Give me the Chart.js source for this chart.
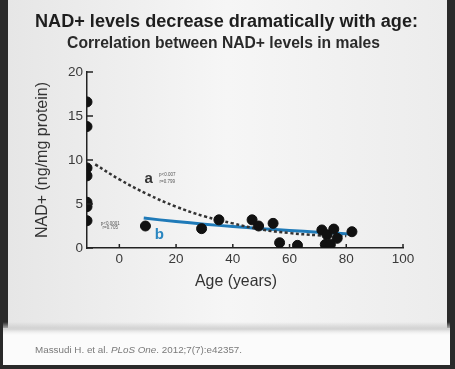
<!DOCTYPE html>
<html>
<head>
<meta charset="utf-8">
<script src="https://cdn.jsdelivr.net/npm/chart.js@4.4.1/dist/chart.umd.min.js"></script>
<style>
  html, body { margin: 0; padding: 0; background: #2a2a2a; }
  #wrap { width: 455px; height: 369px; position: relative; }
</style>
</head>
<body>
<div id="wrap"><canvas id="nadChart" width="455" height="369"></canvas></div>
<script>
// values
var ages = [-11.4, -11.4, -11.4, -11.4, -11.4, -11.4, -11.4, 9.2, 29.0, 35.1, 46.8, 49.1, 54.2, 56.5, 62.8, 71.4, 73.2, 75.6, 76.8, 72.6, 74.4, 82.0];
var nadLevels = [16.6, 13.8, 9.1, 8.2, 5.2, 4.7, 3.1, 2.5, 2.2, 3.2, 3.2, 2.5, 2.8, 0.6, 0.3, 2.05, 1.5, 2.15, 1.1, 0.4, 0.4, 1.85];

var curveAAge = [-8.5, 0, 10, 20, 30, 40, 50, 60, 70, 80];
var curveANad = [9.5, 7.8, 6.1, 4.7, 3.6, 2.8, 2.1, 1.7, 1.45, 1.35];

var curveBAge = [8.6, 20, 30, 40, 50, 60, 70, 81];
var curveBNad = [3.4, 3.0, 2.7, 2.45, 2.2, 2.0, 1.8, 1.6];

var xTicks = [0, 20, 40, 60, 80, 100];
var yTicks = [0, 5, 10, 15, 20];

var title = "NAD+ levels decrease dramatically with age:";
var subtitle = "Correlation between NAD+ levels in males";
var xTitle = "Age (years)";
var yTitle = "NAD+ (ng/mg protein)";

function toPoints(xs, ys) {
    return xs.map(function (x, i) { return { x: x, y: ys[i] }; });
}

var FONT = "'Liberation Sans', Arial, sans-serif";

// pick a font size so the text spans the given width
function fitFont(ctx, text, style, width) {
    ctx.font = style + ' 10px ' + FONT;
    var size = 10 * width / ctx.measureText(text).width;
    ctx.font = style + ' ' + size.toFixed(2) + 'px ' + FONT;
    return size;
}

var decor = {
    id: 'decor',
    beforeDraw: function (chart) {
        var ctx = chart.ctx;
        ctx.save();
        ctx.fillStyle = '#2a2a2a';
        ctx.fillRect(0, 0, 455, 369);
        var g = ctx.createLinearGradient(8, 0, 447, 0);
        g.addColorStop(0, '#e6e6e6');
        g.addColorStop(0.5, '#f6f6f6');
        g.addColorStop(1, '#ececec');
        ctx.fillStyle = g;
        ctx.fillRect(8, 0, 439, 328);
        ctx.fillStyle = '#fbfbfb';
        ctx.fillRect(3, 328, 447, 37);
        var sh = ctx.createLinearGradient(0, 322, 0, 336);
        sh.addColorStop(0, 'rgba(200,200,200,0)');
        sh.addColorStop(0.5, 'rgba(205,205,205,0.9)');
        sh.addColorStop(1, 'rgba(250,250,250,0)');
        ctx.fillStyle = sh;
        ctx.fillRect(3, 322, 447, 14);
        ctx.restore();
    },
    afterDraw: function (chart) {
        var ctx = chart.ctx;
        var xs = chart.scales.x, ys = chart.scales.y;
        ctx.save();
        ctx.textAlign = 'center';
        ctx.textBaseline = 'middle';
        ctx.fillStyle = '#1e1e1e';
        fitFont(ctx, title, 'bold', 383);
        ctx.fillText(title, 226.5, 22);
        ctx.fillStyle = '#2a2a2a';
        fitFont(ctx, subtitle, 'bold', 313);
        ctx.fillText(subtitle, 223.5, 44);

        ctx.fillStyle = '#333';
        fitFont(ctx, xTitle, 'normal', 82);
        ctx.fillText(xTitle, 236, 282);

        // tick marks point inward
        ctx.strokeStyle = '#222';
        ctx.lineWidth = 1.5;
        xTicks.forEach(function (v) {
            var px = xs.getPixelForValue(v);
            ctx.beginPath();
            ctx.moveTo(px, ys.bottom);
            ctx.lineTo(px, ys.bottom - 4);
            ctx.stroke();
        });
        yTicks.forEach(function (v) {
            var py = ys.getPixelForValue(v);
            ctx.beginPath();
            ctx.moveTo(xs.left, py);
            ctx.lineTo(xs.left + 6, py);
            ctx.stroke();
        });

        // curve labels
        ctx.fillStyle = '#333';
        ctx.font = 'bold 15px ' + FONT;
        ctx.fillText('a', xs.getPixelForValue(10.3), ys.getPixelForValue(7.9));
        ctx.fillStyle = '#2a86c0';
        ctx.fillText('b', xs.getPixelForValue(14.1), ys.getPixelForValue(1.5));
        ctx.fillStyle = '#555';
        ctx.font = '4.5px ' + FONT;
        ctx.fillText('p<0.007', xs.getPixelForValue(16.9), ys.getPixelForValue(8.3));
        ctx.fillText('r=0.799', xs.getPixelForValue(16.9), ys.getPixelForValue(7.55));
        ctx.fillText('p<0.0001', xs.getPixelForValue(-3.2), ys.getPixelForValue(2.7));
        ctx.fillText('r=0.705', xs.getPixelForValue(-3.2), ys.getPixelForValue(2.3));

        // citation
        ctx.textAlign = 'left';
        ctx.fillStyle = '#7a7a7a';
        var c1 = 'Massudi H. et al. ', c2 = 'PLoS One', c3 = '. 2012;7(7):e42357.';
        var size = fitFont(ctx, c1 + c2 + c3, 'normal', 207).toFixed(2);
        ctx.font = size + 'px ' + FONT;
        ctx.fillText(c1, 35, 350);
        var w = ctx.measureText(c1).width;
        ctx.font = 'italic ' + size + 'px ' + FONT;
        ctx.fillText(c2, 35 + w, 350);
        w += ctx.measureText(c2).width;
        ctx.font = size + 'px ' + FONT;
        ctx.fillText(c3, 35 + w, 350);
        ctx.restore();
    }
};

document.addEventListener("DOMContentLoaded", function () {
    var ctx = document.getElementById("nadChart").getContext("2d");

    new Chart(ctx, {
        type: 'scatter',
        data: {
            datasets: [{
                label: 'Males',
                data: toPoints(ages, nadLevels),
                backgroundColor: '#111',
                borderColor: '#111',
                pointRadius: 5,
                order: 0
            }, {
                label: 'a',
                data: toPoints(curveAAge, curveANad),
                showLine: true,
                borderColor: '#333',
                borderWidth: 2.5,
                borderDash: [3, 2.5],
                pointRadius: 0,
                tension: 0.4,
                order: 1
            }, {
                label: 'b',
                data: toPoints(curveBAge, curveBNad),
                showLine: true,
                borderColor: '#1f7ab8',
                borderWidth: 3,
                pointRadius: 0,
                tension: 0.4,
                order: 2
            }]
        },
        options: {
            responsive: false,
            animation: false,
            layout: { padding: { top: 72, right: 52, bottom: 0, left: 0 } },
            plugins: {
                legend: { display: false },
                tooltip: { enabled: false }
            },
            scales: {
                x: {
                    type: 'linear',
                    min: -11.4,
                    max: 100,
                    afterBuildTicks: function (scale) {
                        scale.ticks = xTicks.map(function (v) { return { value: v }; });
                    },
                    afterFit: function (scale) { scale.height = 121; },
                    grid: { display: false, drawTicks: false },
                    border: { display: true, color: '#222', width: 1.5 },
                    ticks: { color: '#3a3a3a', padding: 3, font: { size: 13.5, family: FONT } }
                },
                y: {
                    min: 0,
                    max: 20,
                    afterBuildTicks: function (scale) {
                        scale.ticks = yTicks.map(function (v) { return { value: v }; });
                    },
                    afterFit: function (scale) { scale.width = 87; },
                    grid: { display: false, drawTicks: false },
                    border: { display: true, color: '#222', width: 1.5 },
                    ticks: { color: '#3a3a3a', padding: 4, font: { size: 13.5, family: FONT } },
                    title: {
                        display: true,
                        text: yTitle,
                        color: '#333',
                        padding: { top: 33, bottom: 0 },
                        font: { size: 16, family: FONT }
                    }
                }
            }
        },
        plugins: [decor]
    });
});
</script>
</body>
</html>
